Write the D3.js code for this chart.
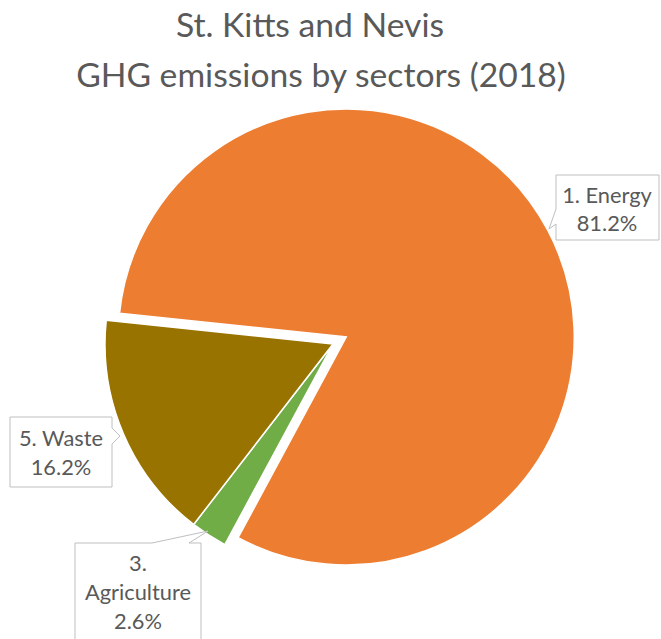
<!DOCTYPE html>
<html>
<head>
<meta charset="utf-8">
<script src="https://cdn.jsdelivr.net/npm/d3@7"></script>
<style>
  body { margin: 0; background: #fff; }
  text { font-family: Lato, "Open Sans", sans-serif; fill: #595959; }
</style>
</head>
<body>
<svg id="chart" width="661" height="639"></svg>
<script>
// Sector shares of total GHG emissions, in percent
const sectors = ["1. Energy", "3. Agriculture", "5. Waste"];
const shares = [81.2, 2.6, 16.2];
const sliceColors = ["#ED7D31", "#70AD47", "#997300"];
const titleLines = ["St. Kitts and Nevis", "GHG emissions by sectors (2018)"];

// Layout
const W = 661, H = 639;
const cx = 333, cy = 344, radius = 228;
const firstSliceAngle = 276;          // degrees, clockwise from 12 o'clock
const explodeIndex = 0, explodeDist = 15;

const svg = d3.select("#chart");

// Font size that makes a string span the given width
function fitSize(str, targetWidth) {
  const t = svg.append("text").attr("font-size", 100).text(str);
  const w = t.node().getComputedTextLength();
  t.remove();
  return 100 * targetWidth / w;
}
const titleSize = fitSize(titleLines[1], 490);
const labelSize = titleSize * 24 / 37;

// Title
svg.append("g").selectAll("text")
  .data(titleLines)
  .join("text")
  .attr("x", (d, i) => [310, 321][i])
  .attr("y", (d, i) => [37, 87][i])
  .attr("text-anchor", "middle")
  .attr("font-size", titleSize)
  .text(d => d);

// Pie
const rad = Math.PI / 180;
const pie = d3.pie().sort(null)
  .startAngle(firstSliceAngle * rad)
  .endAngle((firstSliceAngle + 360) * rad)
  .value(d => d);
const arcs = pie(shares);
const arc = d3.arc().innerRadius(0).outerRadius(radius);

function offset(a, i) {
  if (i !== explodeIndex) return [0, 0];
  const m = (a.startAngle + a.endAngle) / 2;
  return [Math.sin(m) * explodeDist, -Math.cos(m) * explodeDist];
}

svg.append("g")
  .attr("transform", `translate(${cx},${cy})`)
  .selectAll("path")
  .data(arcs)
  .join("path")
  .attr("transform", (d, i) => { const o = offset(d, i); return `translate(${o[0]},${o[1]})`; })
  .attr("d", arc)
  .attr("fill", (d, i) => sliceColors[i])
  .attr("stroke", "#fff")
  .attr("stroke-width", 1.5)
  .attr("stroke-linejoin", "miter");

// Data callouts: box outline with a pointer toward the slice
const fmt = v => d3.format(".1f")(v) + "%";
const callouts = [
  { // Energy
    path: [[556,175],[659,175],[659,240],[556,240],[556,224],[549,229],[556,209]],
    lines: [sectors[0], fmt(shares[0])],
    x: 607, ys: [203, 231]
  },
  { // Agriculture
    path: [[75,650],[75,543],[152,543],[208,531],[189,543],[201,543],[201,650]],
    lines: ["3.", "Agriculture", fmt(shares[1])],
    x: 138, ys: [571, 600, 629]
  },
  { // Waste
    path: [[10,417],[112,417],[112,428],[120,436],[112,444],[112,487],[10,487]],
    lines: [sectors[2], fmt(shares[2])],
    x: 61, ys: [446, 475]
  }
];

const cg = svg.append("g");
callouts.forEach(c => {
  cg.append("path")
    .attr("d", d3.line()(c.path) + "Z")
    .attr("fill", "#fff")
    .attr("stroke", "#BFBFBF")
    .attr("stroke-width", 1);
  cg.append("g").selectAll("text")
    .data(c.lines)
    .join("text")
    .attr("x", c.x)
    .attr("y", (d, i) => c.ys[i])
    .attr("text-anchor", "middle")
    .attr("font-size", labelSize)
    .text(d => d);
});
</script>
</body>
</html>
